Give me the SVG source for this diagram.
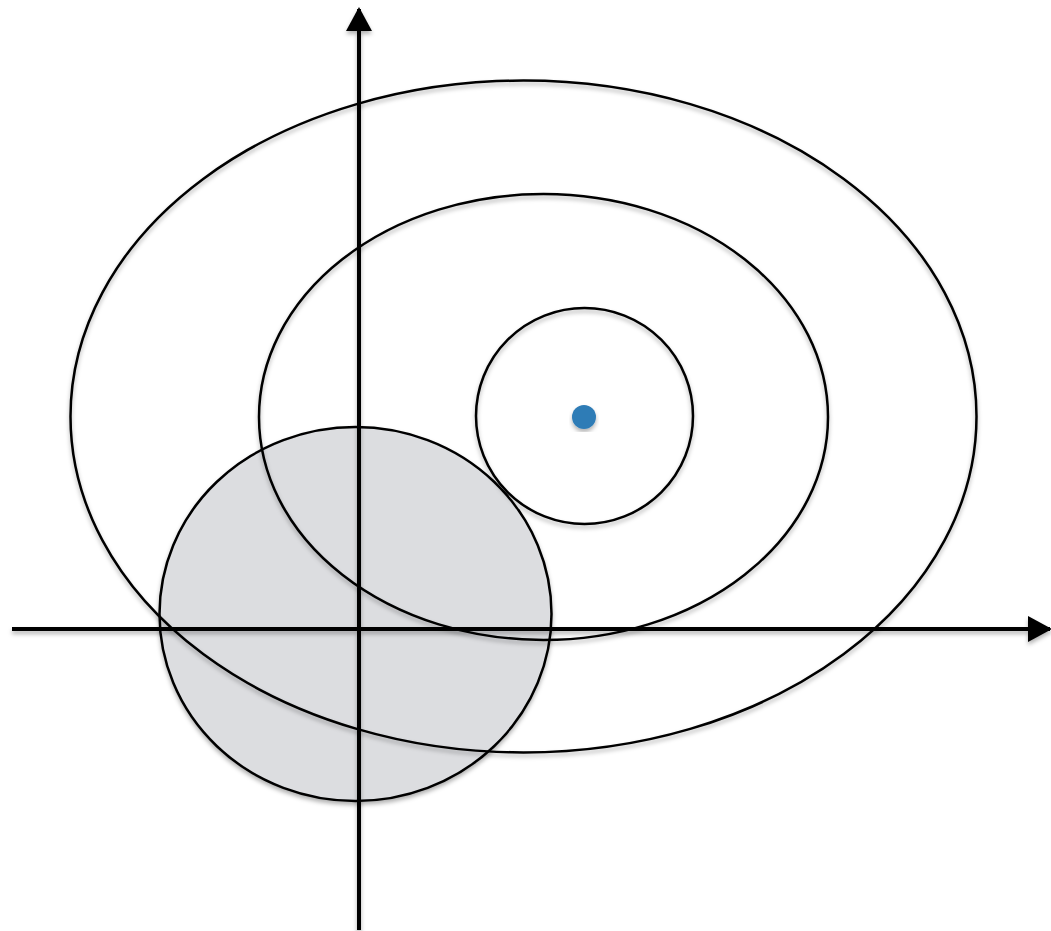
<svg xmlns="http://www.w3.org/2000/svg" width="1051" height="931" viewBox="0 0 1051 931">
<style>
.ring{fill:none;stroke:#000;stroke-width:2.5}
.axis{stroke:#000;stroke-width:4;fill:none}
</style>
<defs>
<filter id="sh" x="-10%" y="-10%" width="120%" height="120%">
<feDropShadow dx="0" dy="3" stdDeviation="2" flood-color="#000" flood-opacity="0.3"/>
</filter>
<marker id="ah" viewBox="0 0 24 26" refX="22" refY="13" markerWidth="24" markerHeight="26" markerUnits="userSpaceOnUse" orient="auto">
<path d="M0,0 L24,13 L0,26 Z" fill="#000"/>
</marker>
</defs>
<rect width="1051" height="931" fill="#fff"/>
<g id="region" filter="url(#sh)">
<ellipse cx="355.5" cy="614" rx="196" ry="187" fill="#dcdde0" stroke="#000" stroke-width="2.5"/>
</g>
<g id="outer" filter="url(#sh)">
<ellipse class="ring" cx="523.5" cy="416.5" rx="453" ry="336"/>
</g>
<g id="middle" filter="url(#sh)">
<ellipse class="ring" cx="543.5" cy="417" rx="284.5" ry="223"/>
</g>
<g id="inner" filter="url(#sh)">
<ellipse class="ring" cx="584.5" cy="416" rx="108.5" ry="108"/>
</g>
<g id="center" filter="url(#sh)">
<circle cx="584" cy="417" r="12" fill="#2f7cb6"/>
</g>
<g id="connectors" filter="url(#sh)">
<line class="axis" x1="12" y1="629" x2="1050" y2="629" marker-end="url(#ah)"/>
<line class="axis" x1="359" y1="930" x2="359" y2="9" marker-end="url(#ah)"/>
</g>
</svg>
